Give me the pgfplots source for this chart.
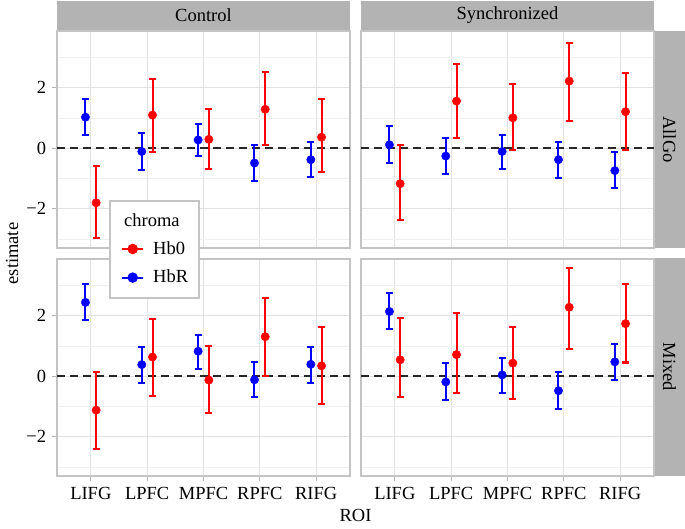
\documentclass[border=0pt]{standalone}
\usepackage{fontspec}
\setmainfont{Liberation Serif}
\usepackage{pgfplots}
\pgfplotsset{compat=1.18}
\usepackage{pgfplotstable}

\definecolor{stripgray}{RGB}{179,179,179}
\definecolor{bordergray}{RGB}{196,196,196}
\definecolor{gridmaj}{RGB}{226,226,226}
\definecolor{gridmin}{RGB}{240,240,240}
\definecolor{hbo}{RGB}{255,0,0}
\definecolor{hbr}{RGB}{0,0,255}

% x: ROI (1 LIFG, 2 LPFC, 3 MPFC, 4 RPFC, 5 RIFG); r = Hb0, b = HbR
% Control / AllGo
\pgfplotstableread{
x  r     rlo    rhi    b     blo    bhi
1 -1.80 -2.96  -0.60   1.02  0.44   1.62
2  1.09 -0.13   2.27  -0.11 -0.71   0.49
3  0.29 -0.69   1.29   0.27 -0.25   0.80
4  1.28  0.09   2.51  -0.49 -1.09   0.09
5  0.36 -0.80   1.62  -0.38 -0.96   0.20
}\tabCA
% Synchronized / AllGo
\pgfplotstableread{
x  r     rlo    rhi    b     blo    bhi
1 -1.17 -2.37   0.12   0.11 -0.48   0.72
2  1.55  0.32   2.77  -0.26 -0.86   0.34
3  1.00 -0.05   2.12  -0.11 -0.68   0.44
4  2.21  0.91   3.46  -0.38 -0.98   0.20
5  1.20 -0.07   2.48  -0.74 -1.32  -0.13
}\tabSA
% Control / Mixed
\pgfplotstableread{
x  r     rlo    rhi    b     blo    bhi
1 -1.12 -2.40   0.15   2.43  1.84   3.04
2  0.63 -0.65   1.89   0.38 -0.24   0.97
3 -0.13 -1.20   0.99   0.82  0.24   1.37
4  1.30  0.02   2.59  -0.12 -0.68   0.48
5  0.34 -0.93   1.62   0.39 -0.24   0.96
}\tabCM
% Synchronized / Mixed
\pgfplotstableread{
x  r     rlo    rhi    b     blo    bhi
1  0.54 -0.68   1.93   2.13  1.54   2.75
2  0.71 -0.56   2.07  -0.19 -0.77   0.42
3  0.43 -0.75   1.62   0.04 -0.54   0.59
4  2.27  0.88   3.57  -0.48 -1.07   0.14
5  1.73  0.45   3.04   0.47 -0.12   1.07
}\tabSM

\pgfplotsset{
  panel/.style={
    scale only axis, width=293bp, height=217bp, anchor=south west,
    xmin=0.4, xmax=5.6, ymin=-3.29, ymax=3.86,
    xtick={1,...,5}, ytick={-2,0,2}, minor ytick={-3,-1,1,3},
    xmajorgrids, ymajorgrids, yminorgrids,
    major grid style={gridmaj, line width=0.9bp},
    minor grid style={gridmin, line width=0.6bp},
    axis line style={bordergray, line width=1.1bp},
    tick align=outside, major tick length=4.6bp, minor tick length=0pt,
    tick style={stripgray, line width=0.9bp},
    xtick pos=bottom, ytick pos=left,
    xticklabels={}, yticklabels={},
  },
  outerx/.style={xticklabels={LIFG,LPFC,MPFC,RPFC,RIFG}},
  innerx/.style={xtick style={draw=none}},
  outery/.style={yticklabels={−2,0,2}},
  innery/.style={ytick style={draw=none}},
  ebar/.style={only marks, mark=*, mark size=4.2bp, mark options={fill=#1, draw=#1, solid},
    color=#1, forget plot,
    error bars/.cd, y dir=both, y explicit,
    error bar style={draw=#1, line width=2bp, solid},
    error mark options={draw=#1, line width=2bp, mark size=3.5bp, rotate=90}},
}

\newcommand{\panelplots}[1]{%
  \addplot[black!85, line width=1.5bp, dash pattern=on 8bp off 5bp, forget plot]
    coordinates {(0.4,0) (5.6,0)};
  \addplot[ebar=hbr] table[x expr=\thisrow{x}-0.095, y=b,
    y error plus expr=\thisrow{bhi}-\thisrow{b},
    y error minus expr=\thisrow{b}-\thisrow{blo}] {#1};
  \addplot[ebar=hbo] table[x expr=\thisrow{x}+0.095, y=r,
    y error plus expr=\thisrow{rhi}-\thisrow{r},
    y error minus expr=\thisrow{r}-\thisrow{rlo}] {#1};
}

\begin{document}
\fontsize{18.5bp}{22bp}\selectfont
\begin{tikzpicture}
\useasboundingbox (0,0) rectangle (685bp,-529bp);

% strips
\fill[stripgray] (57bp,-1bp) rectangle (350bp,-31bp);
\fill[stripgray] (361bp,-1bp) rectangle (654bp,-31bp);
\fill[stripgray] (654bp,-31bp) rectangle (685bp,-248bp);
\fill[stripgray] (654bp,-258bp) rectangle (685bp,-476bp);
\node at (203.5bp,-15.5bp) {Control};
\node at (507.5bp,-15.5bp) {Synchronized};
\node[rotate=-90] at (669.5bp,-139.5bp) {AllGo};
\node[rotate=-90] at (669.5bp,-367bp) {Mixed};

% panels
\begin{axis}[panel, outerx, outery, at={(57bp,-476bp)}]
\panelplots{\tabCM}
\end{axis}
\begin{axis}[panel, outerx, innery, at={(361bp,-476bp)}]
\panelplots{\tabSM}
\end{axis}
\begin{axis}[panel, innerx, outery, at={(57bp,-248bp)}]
\panelplots{\tabCA}
\end{axis}
\begin{axis}[panel, innerx, innery, at={(361bp,-248bp)}]
\panelplots{\tabSA}
\end{axis}

% axis titles
\node[rotate=90] at (12bp,-253.5bp) {estimate};
\node at (355.5bp,-515bp) {ROI};

% legend box and title
\filldraw[fill=white, draw=bordergray, line width=1.1bp] (110bp,-201bp) rectangle (199bp,-298bp);
\node[anchor=west, inner sep=0pt] at (124bp,-220bp) {chroma};
\begin{axis}[scale only axis, width=293bp, height=217bp, anchor=south west,
  at={(57bp,-248bp)}, hide axis, xmin=0, xmax=1, ymin=0, ymax=1,
  legend style={at={(axis description cs:0.181,0.060)}, anchor=north west,
    draw=none, fill=none, inner xsep=11bp, inner ysep=4bp, row sep=9bp,
    column sep=7bp, cells={anchor=west}},
  legend cell align=left]
\addlegendimage{legend image code/.code={\draw[hbo, line width=2bp, mark=*, mark size=4.2bp, mark repeat=2, mark phase=2] plot coordinates {(0bp,0bp) (10.5bp,0bp) (21bp,0bp)};}}
\addlegendentry{Hb0}
\addlegendimage{legend image code/.code={\draw[hbr, line width=2bp, mark=*, mark size=4.2bp, mark repeat=2, mark phase=2] plot coordinates {(0bp,0bp) (10.5bp,0bp) (21bp,0bp)};}}
\addlegendentry{HbR}
\end{axis}
\end{tikzpicture}
\end{document}
